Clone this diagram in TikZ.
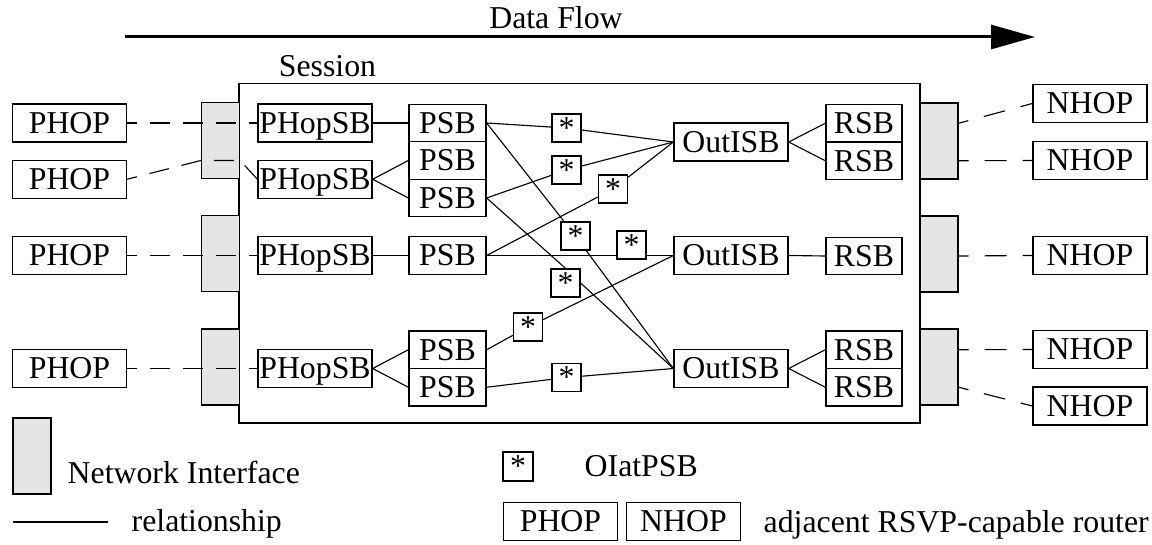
\documentclass[tikz,border=0pt]{standalone}
\usepackage{fontspec}
\setmainfont{Liberation Serif}
\usetikzlibrary{arrows.meta}
\begin{document}
\begin{tikzpicture}[x=0.75pt,y=-0.75pt,
  font=\fontsize{23.85}{28}\selectfont,
  box/.style={draw, line width=1pt, inner sep=0pt, text height=15.7pt, text depth=0pt},
  hop/.style={box, minimum width=85.5pt, minimum height=28.5pt},
  psb/.style={box, minimum width=57.75pt, minimum height=28.125pt},
  rsb/.style={box, minimum width=57pt, minimum height=28.125pt},
  star/.style={box, fill=white, minimum width=21.75pt, minimum height=21pt},
  ni/.style={draw, line width=1pt, fill=gray!20, minimum width=28.5pt, minimum height=57pt, inner sep=0pt},
  rel/.style={line width=0.85pt},
  dl/.style={line width=0.85pt, dash pattern=on 15pt off 9.75pt, dash phase=7.5pt},
  dr/.style={line width=0.85pt, dash pattern=on 16.5pt off 12pt, dash phase=9pt}]
\useasboundingbox (0,0) rectangle (1152,545);

% title arrow
\node[anchor=base] (dflabel) at (556,29) {Data Flow};
\coordinate (dfs) at (125,37);
\coordinate (dfe) at (1035,37);
\draw[line width=2.25pt, -{Triangle[length=33pt, width=18pt]}] (dfs) -- (dfe);

% session
\node[draw, line width=1pt, inner sep=0pt, minimum width=510.75pt, minimum height=254.6pt] (session) at (579.5,253.25) {};
\node[anchor=base] (sesslabel) at (327.5,77) {Session};

% network interfaces
\node[ni] (NIl1) at (220.5,140.5) {};
\node[ni] (NIl2) at (220.5,253.5) {};
\node[ni] (NIl3) at (220.5,367) {};
\node[ni] (NIr1) at (939,141) {};
\node[ni] (NIr2) at (939,254) {};
\node[ni] (NIr3) at (939,367) {};

% PHOP
\node[hop] (PHOP1) at (69.5,123) {PHOP};
\node[hop] (PHOP2) at (69.5,179.25) {PHOP};
\node[hop] (PHOP3) at (69.5,255.5) {PHOP};
\node[hop] (PHOP4) at (69.5,368.5) {PHOP};

% PHopSB
\node[hop] (PH1) at (315,123) {PHopSB};
\node[hop] (PH2) at (315,179.25) {PHopSB};
\node[hop] (PH3) at (315,255.5) {PHopSB};
\node[hop] (PH4) at (315,368.5) {PHopSB};

% PSB
\node[psb] (PSB1) at (447.5,123) {PSB};
\node[psb] (PSB2) at (447.5,160.5) {PSB};
\node[psb] (PSB3) at (447.5,198) {PSB};
\node[psb] (PSB4) at (447.5,255.5) {PSB};
\node[psb] (PSB5) at (447.5,349.75) {PSB};
\node[psb] (PSB6) at (447.5,387.25) {PSB};

% OutISB
\node[hop] (OI1) at (731,142) {OutISB};
\node[hop] (OI2) at (731,255.5) {OutISB};
\node[hop] (OI3) at (731,368.5) {OutISB};

% RSB
\node[rsb] (RSB1) at (864,123.25) {RSB};
\node[rsb] (RSB2) at (864,160.75) {RSB};
\node[rsb] (RSB3) at (864,256) {RSB};
\node[rsb] (RSB4) at (864,349.75) {RSB};
\node[rsb] (RSB5) at (864,387.25) {RSB};

% NHOP
\node[hop] (NHOP1) at (1090,103.5) {NHOP};
\node[hop] (NHOP2) at (1090,160.5) {NHOP};
\node[hop] (NHOP3) at (1090,255.5) {NHOP};
\node[hop] (NHOP4) at (1090,349.5) {NHOP};
\node[hop] (NHOP5) at (1090,406) {NHOP};

% dashed links to adjacent routers
\draw[dl] (PHOP1.east) -- (PH1.west);
\draw[dl] (PHOP2.east) -- (NIl1.west |- PSB2.west) -- (NIl1.east |- PSB2.west) -- (PH2.west);
\draw[dl] (PHOP3.east) -- (PH3.west);
\draw[dl] (PHOP4.east) -- (PH4.west);
\draw[dr] (NIr1.east |- RSB1.west) -- (NHOP1.west);
\draw[dr] (NIr1.east |- RSB2.west) -- (NHOP2.west);
\draw[dr] (NIr2.east |- RSB3.west) -- (NHOP3.west);
\draw[dr] (NIr3.east |- RSB4.west) -- (NHOP4.west);
\draw[dr] (NIr3.east |- RSB5.west) -- (NHOP5.west);

% relationships
\draw[rel] (PH1.east) -- (PSB1.west);
\draw[rel] (PSB2.west) -- (PH2.east) -- (PSB3.west);
\draw[rel] (PH3.east) -- (PSB4.west);
\draw[rel] (PSB5.west) -- (PH4.east) -- (PSB6.west);
\draw[rel] (RSB1.west) -- (OI1.east) -- (RSB2.west);
\draw[rel] (OI2.east) -- (RSB3.west);
\draw[rel] (RSB4.west) -- (OI3.east) -- (RSB5.west);
\draw[rel] (PSB4.east) -- (OI2.west);

% OIatPSB
\node[star] (s1) at (566.5,128) {*};
\node[star] (s2) at (566.5,170) {*};
\node[star] (s3) at (613,189) {*};
\node[star] (s4) at (575.5,236) {*};
\node[star] (s5) at (631.5,245) {*};
\node[star] (s6) at (565.5,283) {*};
\node[star] (s7) at (528,327) {*};
\node[star] (s8) at (566.5,377.5) {*};

\draw[rel] (PSB1.east) -- (s1) -- (OI1.west);
\draw[rel] (PSB1.east) -- (s4) -- (OI3.west);
\draw[rel] (PSB3.east) -- (s2) -- (OI1.west);
\draw[rel] (PSB3.east) -- (s6.north);
\draw[rel] (s6.east) -- (OI3.west);
\draw[rel] (PSB4.east) -- (s3) -- (OI1.west);
\draw[rel] (PSB5.east) -- (s7) -- (OI2.west);
\draw[rel] (PSB6.east) -- (s8) -- (OI3.west);

% legend
\node[ni] (lgni) at (32,456) {};
\node[anchor=base west] (lgnit) at (63,483) {Network Interface};
\coordinate (lgr1) at (13,522);
\coordinate (lgr2) at (108,522);
\draw[rel] (lgr1) -- (lgr2);
\node[anchor=base west] (lgrt) at (127,531) {relationship};
\node[star, minimum width=22.5pt, minimum height=21.75pt] (lgs) at (518,466.5) {*};
\node[anchor=base west] (lgst) at (580,476) {OIatPSB};
\node[hop] (lgp) at (560.5,521.5) {PHOP};
\node[hop] (lgn) at (683.5,521.5) {NHOP};
\node[anchor=base west] (lgat) at (759,532) {adjacent RSVP-capable router};
\end{tikzpicture}
\end{document}
